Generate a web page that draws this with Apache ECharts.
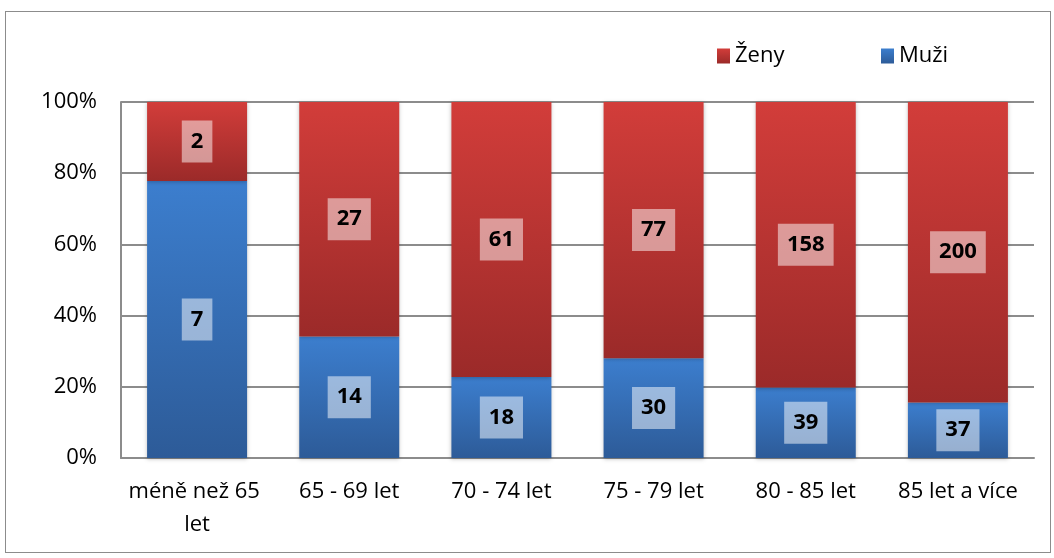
<!DOCTYPE html>
<html>
<head>
<meta charset="utf-8">
<script src="https://cdn.jsdelivr.net/npm/echarts@6/dist/echarts.min.js"></script>
<style>
html,body{margin:0;padding:0;background:#fff;}
#frame{position:absolute;left:5px;top:11px;width:1046px;height:542px;border:1.5px solid #8c8c8c;box-sizing:border-box;}
#chart{position:absolute;left:0;top:0;width:1054px;height:558px;}
</style>
</head>
<body>
<div id="frame"></div>
<div id="chart"></div>
<script>
var categories = ['méně než 65 let', '65 - 69 let', '70 - 74 let', '75 - 79 let', '80 - 85 let', '85 let a více'];
var muzi = [7, 14, 18, 30, 39, 37];
var zeny = [2, 27, 61, 77, 158, 200];
var yTicks = [0, 20, 40, 60, 80, 100];

var totals = categories.map(function (c, i) { return muzi[i] + zeny[i]; });
var muziPct = muzi.map(function (v, i) { return v / totals[i] * 100; });
var zenyPct = zeny.map(function (v, i) { return v / totals[i] * 100; });

var FONT = 'Open Sans';
function grad(top, bottom) {
  return new echarts.graphic.LinearGradient(0, 0, 0, 1, [
    { offset: 0, color: top }, { offset: 1, color: bottom }
  ]);
}
var redGrad = grad('#d23d3a', '#9b2a29');
var blueGrad = grad('#3c7ece', '#2d5b98');

function labelFor(raw) {
  return {
    show: true,
    position: 'inside',
    formatter: function (p) { return String(raw[p.dataIndex]); },
    fontFamily: FONT,
    fontWeight: 'bold',
    fontSize: 22,
    color: '#000',
    backgroundColor: 'rgba(255,255,255,0.5)',
    padding: [9, 9, 9, 9],
    lineHeight: 24
  };
}

var legendText = { fontFamily: FONT, fontSize: 22, color: '#000' };
var chart = echarts.init(document.getElementById('chart'));
chart.setOption({
  animation: false,
  backgroundColor: 'transparent',
  legend: [{
    data: ['Ženy'], icon: 'rect',
    left: 712, top: 40,
    itemWidth: 13, itemHeight: 15, itemGap: 6,
    textStyle: legendText
  }, {
    data: ['Muži'], icon: 'rect',
    left: 876, top: 40,
    itemWidth: 13, itemHeight: 15, itemGap: 6,
    textStyle: legendText
  }],
  grid: { left: 121, right: 20, top: 102, bottom: 100, containLabel: false },
  xAxis: {
    type: 'category',
    data: categories,
    axisLine: { show: true, lineStyle: { color: '#8c8c8c', width: 2 } },
    axisTick: { show: false },
    axisLabel: {
      interval: 0,
      margin: 17,
      fontFamily: FONT,
      fontSize: 22,
      color: '#000',
      width: 175,
      overflow: 'break',
      lineHeight: 33
    }
  },
  yAxis: {
    type: 'value',
    min: 0, max: 100, interval: 20,
    axisLine: { show: true, lineStyle: { color: '#8c8c8c', width: 2 } },
    axisTick: { show: false },
    splitLine: { show: true, lineStyle: { color: '#8c8c8c', width: 2 } },
    axisLabel: {
      margin: 24,
      fontFamily: FONT,
      fontSize: 22,
      color: '#000',
      formatter: function (v) { return yTicks.indexOf(v) >= 0 ? v + '%' : ''; }
    }
  },
  series: [{
    name: 'Muži',
    type: 'bar',
    stack: 'total',
    barWidth: 100,
    data: muziPct,
    itemStyle: { color: blueGrad, shadowBlur: 4, shadowColor: 'rgba(0,0,0,0.25)', shadowOffsetY: 1 },
    label: labelFor(muzi)
  }, {
    name: 'Ženy',
    type: 'bar',
    stack: 'total',
    barWidth: 100,
    data: zenyPct,
    itemStyle: { color: redGrad, shadowBlur: 4, shadowColor: 'rgba(0,0,0,0.25)', shadowOffsetY: 1 },
    label: labelFor(zeny)
  }]
});
</script>
</body>
</html>
